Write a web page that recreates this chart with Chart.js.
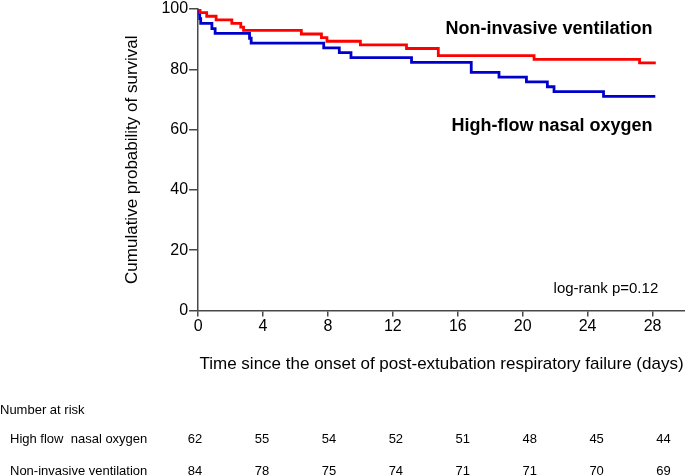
<!DOCTYPE html>
<html>
<head>
<meta charset="utf-8">
<script src="https://cdn.jsdelivr.net/npm/chart.js@4.4.1/dist/chart.umd.min.js"></script>
<style>
  html, body { margin: 0; padding: 0; background: #fff; }
  #wrap { width: 685px; height: 476px; position: relative; }
</style>
</head>
<body>
<div id="wrap"><canvas id="km"></canvas></div>
<script>
// Kaplan-Meier steps (day, survival %)
const nivDays = [0, 0.12, 0.53, 1.11, 2.08, 2.63, 2.8, 6.36, 7.6, 7.94, 10.0, 12.84, 14.8, 20.7, 27.2, 28.2];
const nivSurv = [100, 98.8, 97.6, 96.4, 95.2, 94.0, 92.9, 91.7, 90.5, 89.3, 88.1, 86.9, 84.5, 83.3, 82.1, 82.1];

const hfnoDays = [0, 0.05, 0.1, 0.16, 0.85, 1.05, 3.17, 3.27, 7.74, 8.7, 9.42, 13.15, 16.83, 18.54, 20.23, 21.52, 21.93, 24.98, 28.17];
const hfnoSurv = [100, 98.4, 96.8, 95.2, 93.5, 91.9, 90.3, 88.7, 87.1, 85.5, 83.9, 82.3, 79.0, 77.4, 75.8, 74.2, 72.6, 71.0, 71.0];

// number at risk table
const riskDays = [0, 4, 8, 12, 16, 20, 24, 28];
const hfnoAtRisk = [62, 55, 54, 52, 51, 48, 45, 44];
const nivAtRisk = [84, 78, 75, 74, 71, 71, 70, 69];

const xTicks = [0, 4, 8, 12, 16, 20, 24, 28];
const yTicks = [0, 20, 40, 60, 80, 100];

const FONT = "'Liberation Sans', Arial, sans-serif";
const AXIS = "#484848";

function toPoints(days, surv) {
    return days.map((d, i) => ({ x: d, y: surv[i] }));
}

// Text on the plot and the table below it
const labelsPlugin = {
    id: "kmLabels",
    afterDraw(chart) {
        const ctx = chart.ctx;
        const x = chart.scales.x;
        const y = chart.scales.y;
        ctx.save();
        ctx.fillStyle = "#000";
        ctx.textBaseline = "middle";

        ctx.font = "bold 18px " + FONT;
        ctx.textAlign = "right";
        ctx.fillText("Non-invasive ventilation", x.getPixelForValue(28), y.getPixelForValue(93.3));
        ctx.fillText("High-flow nasal oxygen", x.getPixelForValue(28), y.getPixelForValue(61.2));

        ctx.font = "15px " + FONT;
        ctx.fillText("log-rank p=0.12", x.getPixelForValue(28.35), y.getPixelForValue(7.2));

        ctx.font = "13px " + FONT;
        ctx.textAlign = "left";
        ctx.fillText("Number at risk", 0, 410);
        ctx.fillText("High flow  nasal oxygen", 10, 439);
        ctx.fillText("Non-invasive ventilation", 10, 471);

        // counts sit a little right of each tick, drifting as in the original
        ctx.textAlign = "center";
        riskDays.forEach((d, i) => {
            const px = x.getPixelForValue(d) - 3 + d * 0.5;
            ctx.fillText(String(hfnoAtRisk[i]), px, 439);
            ctx.fillText(String(nivAtRisk[i]), px, 471);
        });
        ctx.restore();
    }
};

new Chart(document.getElementById("km"), {
    type: "line",
    data: {
        datasets: [
            {
                label: "Non-invasive ventilation",
                data: toPoints(nivDays, nivSurv),
                borderColor: "#ff0000",
                borderWidth: 2.8,
                stepped: true,
                pointRadius: 0,
                fill: false
            },
            {
                label: "High-flow nasal oxygen",
                data: toPoints(hfnoDays, hfnoSurv),
                borderColor: "#0000cc",
                borderWidth: 2.8,
                stepped: true,
                pointRadius: 0,
                fill: false
            }
        ]
    },
    options: {
        responsive: true,
        maintainAspectRatio: false,
        animation: false,
        layout: { padding: { top: -4, left: 122, right: 0, bottom: 101 } },
        plugins: {
            legend: { display: false },
            tooltip: { enabled: false }
        },
        scales: {
            x: {
                type: "linear",
                min: 0,
                max: 30,
                afterBuildTicks: (scale) => { scale.ticks = xTicks.map(v => ({ value: v })); },
                grid: { drawOnChartArea: false, color: AXIS, tickLength: 6, lineWidth: 1.5 },
                border: { color: AXIS, width: 1.5 },
                ticks: { color: "#000", font: { family: FONT, size: 16 }, padding: 1, maxRotation: 0 },
                title: {
                    display: true,
                    text: "Time since the onset of post-extubation respiratory failure (days)",
                    color: "#000",
                    font: { family: FONT, size: 17 },
                    padding: { top: 17, bottom: 0 }
                }
            },
            y: {
                min: 0,
                max: 100,
                afterBuildTicks: (scale) => { scale.ticks = yTicks.map(v => ({ value: v })); },
                grid: { drawOnChartArea: false, color: AXIS, tickLength: 9, lineWidth: 1.5 },
                border: { color: AXIS, width: 1.5 },
                ticks: { color: "#000", font: { family: FONT, size: 16, lineHeight: 1.0 }, padding: 1 },
                title: {
                    display: true,
                    text: "Cumulative probability of survival",
                    color: "#000",
                    font: { family: FONT, size: 17 },
                    padding: { top: 0, bottom: 18 }
                }
            }
        }
    },
    plugins: [labelsPlugin]
});
</script>
</body>
</html>
